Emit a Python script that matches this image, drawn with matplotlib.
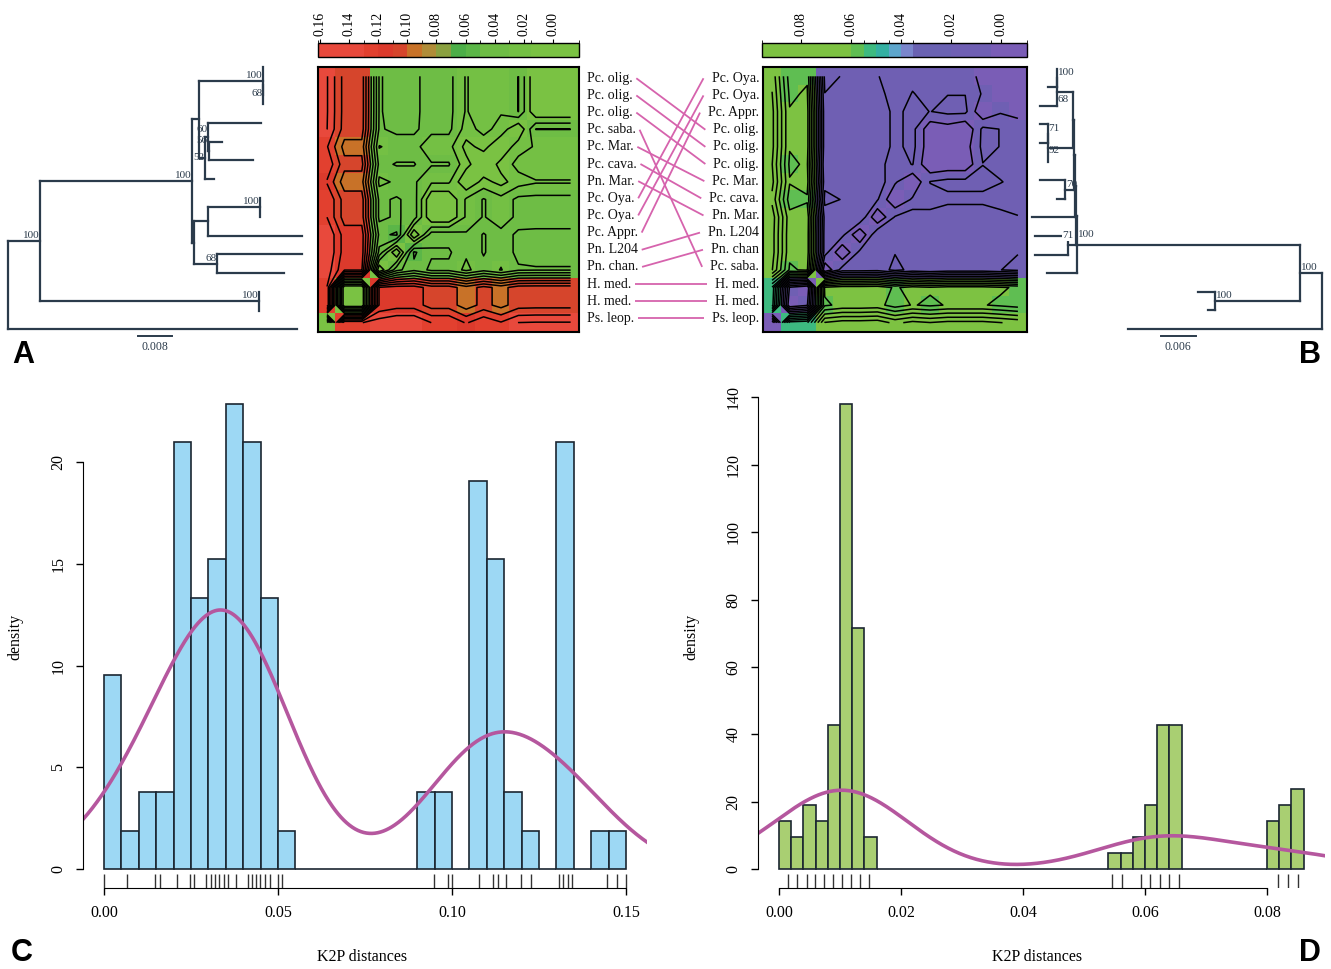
import numpy as np
import matplotlib
matplotlib.use("Agg")
import matplotlib.pyplot as plt
from matplotlib.colors import ListedColormap, BoundaryNorm
from matplotlib.cm import ScalarMappable
from matplotlib.collections import LineCollection
from matplotlib.transforms import offset_copy

plt.rcParams["font.family"] = ["Liberation Serif", "DejaVu Serif"]

# ---------------- data ----------------
labels_A = ["Pc. olig.", "Pc. olig.", "Pc. olig.", "Pc. saba.", "Pc. Mar.", "Pc. cava.",
            "Pn. Mar.", "Pc. Oya.", "Pc. Oya.", "Pc. Appr.", "Pn. L204", "Pn. chan.",
            "H. med.", "H. med.", "Ps. leop."]
labels_B = ["Pc. Oya.", "Pc. Oya.", "Pc. Appr.", "Pc. olig.", "Pc. olig.", "Pc. olig.",
            "Pc. Mar.", "Pc. cava.", "Pn. Mar.", "Pn. L204", "Pn. chan", "Pc. saba.",
            "H. med.", "H. med.", "Ps. leop."]

# trees: internal node = (support label, branch length, [children]); tip = (tip row, branch length)
# a support label may be (text, nudge_x_px, nudge_y_px)
tree_A = ("", 0.0, [
    ("100", 0.00776, [
        ("100", 0.0365, [
            ("", 0.0017, [
                ("100", 0.0154, [(0, 0.0), (("68", 0, 4), 0.0, [(1, 0.0), (2, 0.0)])]),
                (("52", 0, 5), 0.00137, [
                    (("60", 0, -2), 0.0008, [(3, 0.01266),
                                             (("56", -1, -5), 0.0002, [(4, 0.0032), (5, 0.0105)])]),
                    (6, 0.0022)]),
            ]),
            ("", 0.0005, [
                ("", 0.0032, [("100", 0.01257, [(7, 0.0), (8, 0.0)]), (9, 0.0226)]),
                ("68", 0.0054, [(10, 0.0204), (11, 0.0162)]),
            ]),
        ]),
        ("100", 0.0525, [(12, 0.0), (13, 0.0)]),
    ]),
    (14, 0.0694),
])

tree_B = ("", 0.0, [
    ("100", 0.00372, [
        (("100", 0, -5), 0.0383, [
            ("", 0.00017, [
                ("", 0.00017, [
                    ("", 0.00017, [
                        ("", 0.00017, [
                            (("68", 0, 13), 0.00274, [("100", 0.0, [(0, 0.0), (1, 0.00154)]), (2, 0.00286)]),
                            (("92", 0, 8), 0.00429, [("71", 0.0, [(3, 0.00132), (4, 0.00132)]), (5, 0.0)]),
                        ]),
                        ("70", 0.00149, [(6, 0.00429), (7, 0.00142)]),
                    ]),
                    (8, 0.00737),
                ]),
                (("71", -7, -4), 0.00127, [(9, 0.0057), (10, 0.0057)]),
            ]),
            (11, 0.00514),
        ]),
        ("100", 0.01457, [(12, 0.00291), (13, 0.0012)]),
    ]),
    (14, 0.03321),
])
scale_A = 0.008
scale_B = 0.006

histC_start, histC_width = 0.0, 0.005
histC_counts = [5, 1, 2, 2, 11, 7, 8, 12, 11, 7, 1, 0, 0, 0, 0, 0, 0, 0,
                2, 2, 0, 10, 8, 2, 1, 0, 11, 0, 1, 1]
rugC = [0.0001, 0.0065, 0.0148, 0.0161, 0.0211, 0.0246, 0.026, 0.0294, 0.0307, 0.0319,
        0.0331, 0.0344, 0.0356, 0.0379, 0.0413, 0.0424, 0.0437, 0.0448, 0.0462, 0.0476,
        0.05, 0.0512, 0.0948, 0.0988, 0.0999, 0.1078, 0.1119, 0.1133, 0.1155, 0.1197,
        0.1227, 0.1308, 0.132, 0.1333, 0.1346, 0.1445, 0.1474, 0.1499]
histD_start, histD_width = 0.0, 0.002
histD_counts = [3, 2, 4, 3, 9, 29, 15, 2] + [0] * 19 + [1, 1, 2, 4, 9, 9] + [0] * 7 + [3, 4, 5]
rugD = [0.0015, 0.003, 0.0046, 0.0059, 0.0074, 0.0089, 0.0104, 0.0118, 0.0133, 0.0148,
        0.0546, 0.0562, 0.0593, 0.0609, 0.0624, 0.064, 0.0655, 0.0818, 0.0835, 0.085]

cbarA_bounds = [-0.018, 0.015, 0.03, 0.05, 0.06, 0.07, 0.08, 0.09, 0.10, 0.11, 0.12, 0.13, 0.161]
cbarA_colors = ["#7ac243", "#74c044", "#6ebd45", "#5bb648", "#4cae48", "#8aa040",
                "#b08c38", "#c87228", "#d6452c", "#dc3a2c", "#e2402f", "#e8493c"]
cbarA_ticks = [0.16, 0.14, 0.12, 0.10, 0.08, 0.06, 0.04, 0.02, 0.00]
cbarB_bounds = [-0.0103, 0.004, 0.02, 0.035, 0.04, 0.045, 0.05, 0.055, 0.06, 0.0955]
cbarB_colors = ["#7a5db6", "#6f5fb3", "#6a62b2", "#7a86cc", "#5ea6cc", "#34b0a2",
                "#3dba80", "#5fbe52", "#7dc242"]
cbarB_ticks = [0.08, 0.06, 0.04, 0.02, 0.00]
levels_A = np.arange(0.01, 0.165, 0.01)
levels_B = np.arange(0.005, 0.095, 0.005)

# ---------------- helpers ----------------
W, H = 1331, 969
fig = plt.figure(figsize=(W / 100, H / 100), dpi=100)


def px_axes(x0, y0, x1, y1):
    return fig.add_axes([x0 / W, 1 - y1 / H, (x1 - x0) / W, (y1 - y0) / H])


TREE_COL = "#2b3b4b"


def layout_tree(node, x0, segs, labs):
    if len(node) == 2:
        idx, bl = node
        if bl > 0:
            segs.append([(x0, idx), (x0 + bl, idx)])
        return float(idx)
    lab, bl, kids = node
    x = x0 + bl
    ys = [layout_tree(k, x, segs, labs) for k in kids]
    y = 0.5 * (ys[0] + ys[-1])
    segs.append([(x, ys[0]), (x, ys[-1])])
    if bl > 0:
        segs.append([(x0, y), (x, y)])
    if lab:
        labs.append((x, y, lab))
    return y


def draw_tree(ax, tree, mirror):
    segs, labs = [], []
    layout_tree(tree, 0.0, segs, labs)
    ax.add_collection(LineCollection(segs, colors=TREE_COL, linewidths=1.6,
                                     capstyle="projecting"))
    for x, y, lab in labs:
        dx, dy = 0, 0
        if isinstance(lab, tuple):
            lab, dx, dy = lab
        dx += 1 if mirror else -0.5
        tr = offset_copy(ax.transData, fig=fig, x=dx * 0.72, y=-(dy - 1) * 0.72, units="points")
        ax.text(x, y, lab, ha="left" if mirror else "right", va="bottom",
                fontsize=8, color=TREE_COL, transform=tr,
                bbox=dict(facecolor="white", edgecolor="none", pad=0.2) if (mirror and dx < 0) else None)


def collect(node, depth, anc, tips, ndepth):
    if len(node) == 2:
        tips[node[0]] = (depth + node[1], anc)
        return
    lab, bl, kids = node
    d = depth + bl
    nid = len(ndepth)
    ndepth.append(d)
    for k in kids:
        collect(k, d, anc + [nid], tips, ndepth)


def patristic(tree, n):
    tips, nd = {}, []
    collect(tree, 0.0, [], tips, nd)
    M = np.zeros((n, n))
    for i in range(n):
        for j in range(n):
            if i == j:
                continue
            di, ai = tips[i]
            dj, aj = tips[j]
            common = [a for a in ai if a in aj]
            M[i, j] = di + dj - 2 * nd[common[-1]]
    return M


def make_cmap(bounds, colors):
    cmap = ListedColormap(colors)
    return cmap, BoundaryNorm(bounds, cmap.N)


def draw_heat(ax, M, cmap, norm, levels):
    n = M.shape[0]
    Z = M[:, ::-1]
    ax.imshow(Z, cmap=cmap, norm=norm, interpolation="nearest", aspect="auto",
              extent=(-0.5, n - 0.5, n - 0.5, -0.5))
    xs = np.arange(n)
    ax.contour(xs, xs, Z, levels=levels, colors="k", linewidths=1.1)
    ax.set_xlim(-0.5, n - 0.5)
    ax.set_ylim(n - 0.5, -0.5)
    ax.set_xticks([])
    ax.set_yticks([])
    for s in ax.spines.values():
        s.set_linewidth(1.5)


def draw_cbar(cax, cmap, norm, ticks):
    cb = fig.colorbar(ScalarMappable(norm=norm, cmap=cmap), cax=cax,
                      orientation="horizontal", spacing="proportional", ticks=ticks)
    cax.invert_xaxis()
    cax.xaxis.set_ticks_position("top")
    cax.set_xticks(ticks)
    cax.set_xticklabels([f"{t:.2f}" for t in ticks], rotation=90, fontsize=10)
    cax.tick_params(axis="x", length=3, width=0.8, pad=2)
    cb.outline.set_linewidth(1.0)


def kde(centers, counts, xs):
    s = np.repeat(centers, counts)
    n = len(s)
    sd = s.std(ddof=1)
    q75, q25 = np.percentile(s, [75, 25])
    bw = 0.9 * min(sd, (q75 - q25) / 1.34) * n ** -0.2
    return np.exp(-0.5 * ((xs[:, None] - s[None, :]) / bw) ** 2).sum(1) / (n * bw * np.sqrt(2 * np.pi))


def draw_hist(ax, start, width, counts, rug, xticks, yticks, color, xlab_x, ylab_x):
    counts = np.asarray(counts)
    n = counts.sum()
    dens = counts / (n * width)
    edges = start + width * np.arange(len(counts))
    span = width * len(counts)
    xlim = (start - 0.04 * span, start + span + 0.04 * span)
    ax.bar(edges, dens, width=width, align="edge", color=color, edgecolor="#1b2631",
           linewidth=1.2)
    xs = np.linspace(xlim[0], xlim[1], 600)
    ax.plot(xs, kde(edges + width / 2, counts, xs), color="#b5579e", lw=2.6)
    ax.vlines(rug, 0, 0.028, transform=ax.get_xaxis_transform(), colors="#333333", lw=1)
    ymax = dens.max()
    ax.set_xlim(*xlim)
    ax.set_ylim(-0.04 * ymax, 1.04 * ymax)
    for s in ["top", "right"]:
        ax.spines[s].set_visible(False)
    ax.spines["left"].set_bounds(yticks[0], yticks[-1])
    ax.spines["bottom"].set_bounds(xticks[0], xticks[-1])
    ax.set_xticks(xticks)
    ax.set_xticklabels([f"{t:.2f}" for t in xticks])
    ax.set_yticks(yticks)
    ax.set_yticklabels([str(t) for t in yticks], rotation=90, va="center")
    ax.tick_params(direction="out", length=5, width=1, labelsize=11.5, pad=7)
    ax.set_xlabel("K2P distances", fontsize=11.5)
    ax.xaxis.set_label_coords(xlab_x, -0.1375)
    ax.xaxis.label.set_va("center")
    ax.set_ylabel("density", fontsize=11.5)
    ax.yaxis.set_label_coords(ylab_x, 0.5)
    ax.yaxis.label.set_va("center")


# ---------------- trees ----------------
ax_tA = px_axes(0, 55, 312, 355)
draw_tree(ax_tA, tree_A, mirror=False)
ax_tA.set_xlim((0 - 8) / 4162, (312 - 8) / 4162)
ax_tA.set_ylim((355 - 66.7) / 18.757, (55 - 66.7) / 18.757)
ax_tA.plot([0.0313, 0.0313 + scale_A], [14.36, 14.36], color=TREE_COL, lw=1.4)
ax_tA.text(0.0313 + scale_A / 2, 14.95, f"{scale_A:.3f}", ha="center", va="center",
           fontsize=8.5, color=TREE_COL)
ax_tA.axis("off")

ax_tB = px_axes(1022, 55, 1331, 355)
draw_tree(ax_tB, tree_B, mirror=True)
ax_tB.set_xlim((1321.7 - 1022) / 5833, (1321.7 - 1331) / 5833)
ax_tB.set_ylim((355 - 68.7) / 18.6, (55 - 68.7) / 18.6)
ax_tB.plot([0.0216, 0.0216 + scale_B], [14.37, 14.37], color=TREE_COL, lw=1.4)
ax_tB.text(0.0216 + scale_B / 2, 14.96, f"{scale_B:.3f}", ha="center", va="center",
           fontsize=8.5, color=TREE_COL)
ax_tB.axis("off")

# ---------------- heatmaps ----------------
n_tax = len(labels_A)
MA = patristic(tree_A, n_tax)
MB = patristic(tree_B, n_tax)
cmapA, normA = make_cmap(cbarA_bounds, cbarA_colors)
cmapB, normB = make_cmap(cbarB_bounds, cbarB_colors)

ax_hA = px_axes(318.3, 67.5, 579.3, 331.5)
draw_heat(ax_hA, MA, cmapA, normA, levels_A)
ax_hB = px_axes(763.3, 67.5, 1026.7, 331.5)
draw_heat(ax_hB, MB, cmapB, normB, levels_B)

draw_cbar(px_axes(318.3, 43.3, 579.3, 56.7), cmapA, normA, cbarA_ticks)
draw_cbar(px_axes(762.3, 43.3, 1026.7, 56.7), cmapB, normB, cbarB_ticks)

# ---------------- taxon labels and links ----------------
ax_lab = px_axes(580, 69.7, 770, 326.9)
ax_lab.set_xlim(580, 770)
ax_lab.set_ylim(14.5, -0.5)
ax_lab.axis("off")
left_t = [ax_lab.text(586.7, i, t, ha="left", va="center", fontsize=10, color="#111")
          for i, t in enumerate(labels_A)]
right_t = [ax_lab.text(759, i, t, ha="right", va="center", fontsize=10, color="#111")
           for i, t in enumerate(labels_B)]

keyB = [t.rstrip(".") for t in labels_B]
used = set()
match = []
for t in labels_A:
    k = t.rstrip(".")
    j = next(j for j in range(n_tax) if keyB[j] == k and j not in used)
    used.add(j)
    match.append(j)

fig.canvas.draw()
rend = fig.canvas.get_renderer()
inv = ax_lab.transData.inverted()
for i, j in enumerate(match):
    b1 = left_t[i].get_window_extent(rend)
    b2 = right_t[j].get_window_extent(rend)
    xs_ = inv.transform([(b1.x1 + 4, 0), (b2.x0 - 8, 0)])[:, 0]
    ax_lab.plot(xs_, [i, j], color="#d663ad", lw=1.3, solid_capstyle="butt")

# ---------------- histograms ----------------
axC = px_axes(83, 385, 647, 888)
draw_hist(axC, histC_start, histC_width, histC_counts, rugC,
          [0.0, 0.05, 0.10, 0.15], [0, 5, 10, 15, 20], "#9dd8f4", 0.495, -0.12)
axD = px_axes(758, 385, 1324.6, 888)
draw_hist(axD, histD_start, histD_width, histD_counts, rugD,
          [0.0, 0.02, 0.04, 0.06, 0.08], [0, 20, 40, 60, 80, 100, 120, 140], "#a9cf72",
          0.4925, -0.118)

# ---------------- panel letters ----------------
for txt, x, y in [("A", 23, 355), ("B", 1310, 355), ("C", 22, 953), ("D", 1310, 953)]:
    fig.text(x / W, 1 - y / H, txt, ha="center", va="center", fontsize=22,
             fontweight="bold", family=["Liberation Sans", "DejaVu Sans"])

fig.savefig("out.png", dpi=100)
